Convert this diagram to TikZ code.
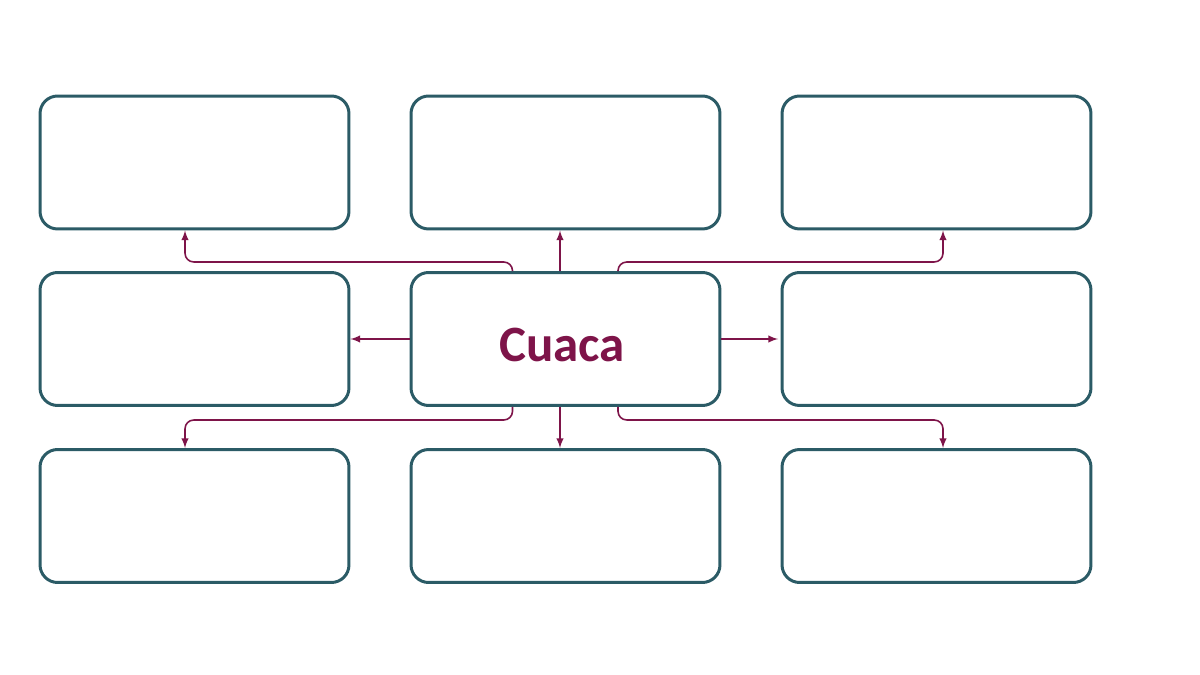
\documentclass[tikz,border=0pt]{standalone}
\usepackage{fontspec}
\setmainfont{Carlito}
\usetikzlibrary{positioning}
\definecolor{boxline}{HTML}{2B5B66}
\definecolor{maroon}{HTML}{7E1449}
\tikzset{
  box/.style={draw=boxline, line width=1.7pt, rounded corners=10pt,
    minimum width=6.18cm, minimum height=2.66cm, inner sep=0pt},
  link/.style={draw=maroon, line width=0.9pt, -latex, rounded corners=5pt}
}
\begin{document}
\begin{tikzpicture}[x=0.02cm, y=-0.02cm]
  \useasboundingbox (0,0) rectangle (1200,675);
  % boxes
  \node[box] (c) at (565.5,339) {};
  \node[text=maroon, font=\fontsize{29}{32}\selectfont\bfseries] (lbl) at (562,345) {Cuaca};
  \node[box] (tl) at (194.5,162.5) {};
  \node[box] (tm) at (565.5,162.5) {};
  \node[box] (tr) at (936.5,162.5) {};
  \node[box] (ml) at (194.5,339) {};
  \node[box] (mr) at (936.5,339) {};
  \node[box] (bl) at (194.5,516) {};
  \node[box] (bm) at (565.5,516) {};
  \node[box] (br) at (936.5,516) {};
  % connectors
  \draw[link] ([xshift=-1.06cm]c.north) |- (185,262) -- ([xshift=-0.19cm]tl.south);
  \draw[link] ([xshift=-0.11cm]c.north) -- ([xshift=-0.11cm]tm.south);
  \draw[link] ([xshift=1.05cm]c.north) |- (943,262) -- ([xshift=0.13cm]tr.south);
  \draw[link] (c.west) -- (ml.east);
  \draw[link] (c.east) -- ([xshift=-0.05cm]mr.west);
  \draw[link] ([xshift=-1.06cm]c.south) |- (185,420) -- ([xshift=-0.19cm]bl.north);
  \draw[link] ([xshift=-0.11cm]c.south) -- ([xshift=-0.11cm]bm.north);
  \draw[link] ([xshift=1.05cm]c.south) |- (943,420) -- ([xshift=0.13cm]br.north);
\end{tikzpicture}
\end{document}
